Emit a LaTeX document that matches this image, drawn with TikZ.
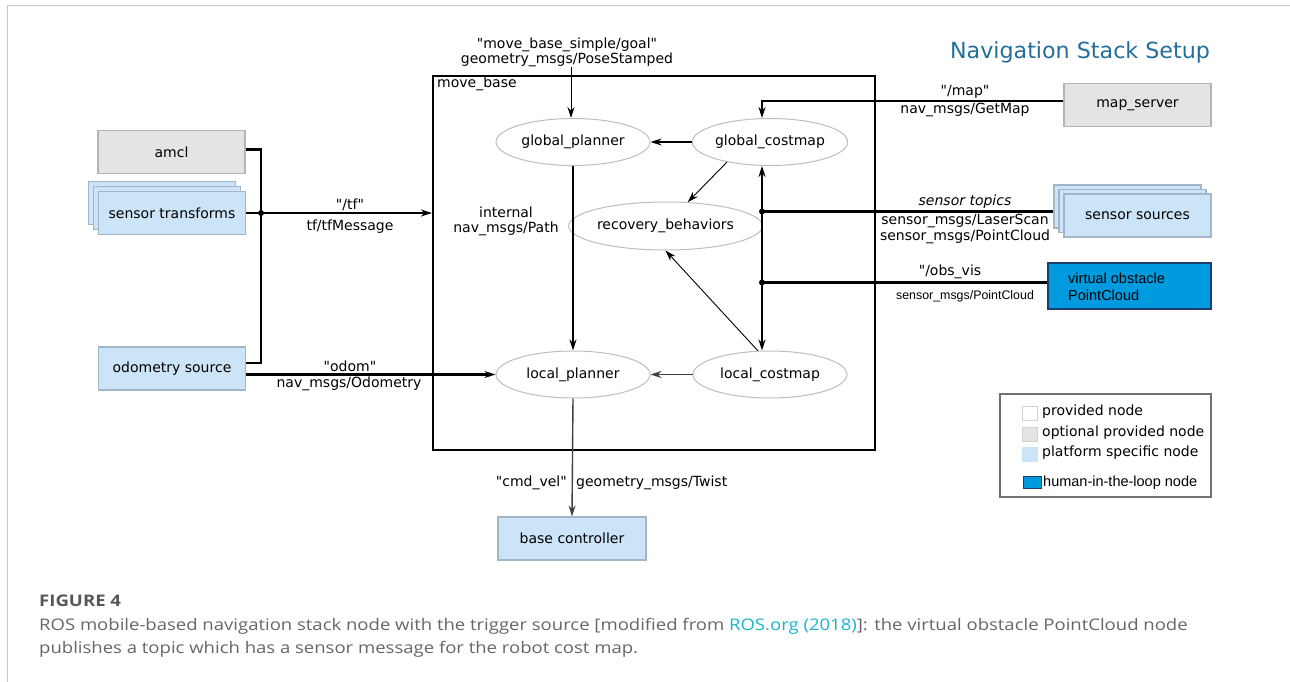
\documentclass[tikz,border=0pt]{standalone}
\usepackage{fontspec}
\setmainfont{DejaVu Sans}[Ligatures=TeXOff]
\newfontfamily\arialfont{Liberation Sans}[Ligatures=TeXOff]
\newfontfamily\capfont{Open Sans}
\usetikzlibrary{shapes.geometric,arrows.meta}
\definecolor{optfill}{HTML}{E4E4E4}
\definecolor{optedge}{HTML}{B4B4B4}
\definecolor{platfill}{HTML}{CCE4F7}
\definecolor{platedge}{HTML}{A3B6C8}
\definecolor{humfill}{HTML}{009BDF}
\definecolor{humedge}{HTML}{1C3F6E}
\definecolor{elledge}{HTML}{BDBDBD}
\definecolor{titleblue}{HTML}{236E9B}
\definecolor{framegray}{HTML}{C8C8C8}
\definecolor{capgray}{HTML}{666666}
\definecolor{linkcyan}{HTML}{1BB3CC}
\definecolor{legedge}{HTML}{707070}
\begin{document}
\begin{tikzpicture}[x=1pt,y=-1pt,
  font=\fontsize{14}{16}\selectfont,
  >={Stealth[length=11pt,width=7pt]},
  optbox/.style={rectangle,draw=optedge,line width=1.2pt,fill=optfill,minimum width=147pt,minimum height=43pt,inner sep=0pt},
  platbox/.style={rectangle,draw=platedge,line width=1.2pt,fill=platfill,minimum width=147pt,minimum height=43pt,inner sep=0pt},
  ell/.style={ellipse,draw=elledge,line width=1pt,fill=white,minimum width=154pt,minimum height=47pt,inner sep=0pt},
  lbl/.style={inner sep=0pt,anchor=center},
  heavy/.style={line width=2.4pt},
  medium/.style={line width=1.4pt},
  fine/.style={line width=0.9pt},
  junction/.style={circle,fill=black,inner sep=0pt,minimum size=6pt},
  swatch/.style={rectangle,minimum width=15pt,minimum height=14pt,inner sep=0pt},
  captext/.style={lbl,anchor=west,text=capgray,font=\capfont\fontsize{16}{18}\selectfont}
]
\useasboundingbox (0,0) rectangle (1290,682);
% page frame
\draw[framegray,line width=1.5pt] (7.5,682) -- (7.5,5.5) -- (1290,5.5);

% title
\node[lbl,text=titleblue,font=\fontsize{22.2}{26}\selectfont] (title) at (1080,52) {Navigation Stack Setup};

% move_base container
\node[draw,line width=2.2pt,minimum width=442pt,minimum height=374pt,inner sep=0pt] (mb) at (654,263) {};
\node[lbl,anchor=west] (mblabel) at (437,84) {move\_base};

% left nodes
\node[optbox] (amcl) at (171.5,152) {amcl};
\node[platbox] (stb1) at (162,203) {};
\node[platbox] (stb2) at (167,208) {};
\node[platbox] (st) at (172,213) {sensor transforms};
\node[platbox] (odom) at (172,368.5) {odometry source};

% right nodes
\node[optbox] (ms) at (1137.5,105) {map\_server};
\node[platbox] (ssb1) at (1127.5,206.5) {};
\node[platbox] (ssb2) at (1132.5,211) {};
\node[platbox] (ss) at (1137.5,215.5) {sensor sources};
\node[rectangle,draw=humedge,line width=1.2pt,fill=humfill,minimum width=163pt,minimum height=46pt,inner sep=0pt] (obs) at (1129.5,286) {};
\node[lbl,anchor=west,font=\arialfont\fontsize{14.5}{17}\selectfont,align=left] (obstext) at (1068,286.5) {virtual obstacle\\PointCloud};

% bottom node
\node[platbox,minimum width=148pt] (bc) at (572,538.5) {base controller};

% ellipses
\node[ell] (gp) at (573,142) {global\_planner};
\node[ell] (gc) at (770,142) {global\_costmap};
\node[ell,minimum width=155pt,minimum height=48pt] (rb) at (665.5,226) {recovery\_behaviors};
\node[ell] (lp) at (573,374.5) {local\_planner};
\node[ell] (lc) at (770,374.5) {local\_costmap};

% labels
\node[lbl,align=center,font=\fontsize{14}{15}\selectfont] (goal) at (567,52.5) {"move\_base\_simple/goal"\\geometry\_msgs/PoseStamped};
\node[lbl] (tfa) at (350,205) {"/tf"};
\node[lbl] (tfb) at (350,227) {tf/tfMessage};
\node[lbl] (oda) at (350,366) {"odom"};
\node[lbl] (odb) at (349,384) {nav\_msgs/Odometry};
\node[lbl] (ina) at (506,212) {internal};
\node[lbl] (inb) at (506,229) {nav\_msgs/Path};
\node[lbl] (mapa) at (965,92) {"/map"};
\node[lbl] (mapb) at (965,110) {nav\_msgs/GetMap};
\node[lbl,font=\itshape\fontsize{14}{16}\selectfont] (sta) at (965,202) {sensor topics};
\node[lbl] (stl1) at (965,221) {sensor\_msgs/LaserScan};
\node[lbl] (stl2) at (965,237) {sensor\_msgs/PointCloud};
\node[lbl] (obsa) at (950,272) {"/obs\_vis};
\node[lbl,font=\arialfont\fontsize{12.4}{14}\selectfont] (obsb) at (965,296) {sensor\_msgs/PointCloud};
\node[lbl,anchor=east] (cva) at (567,483) {"cmd\_vel"};
\node[lbl,anchor=west] (cvb) at (576,483) {geometry\_msgs/Twist};

% connectors: left bus
\coordinate (busT) at (261,149.5);
\coordinate (busB) at (261,363);
\coordinate (busJ) at (261,213);
\draw[heavy,line join=miter] (amcl.east |- busT) -- (busT) -- (busB) -- (odom.east |- busB);
\draw[heavy,->] (st.east) -- (st.east -| mb.west);
\node[junction] (jtf) at (busJ) {};
\draw[heavy,->] (lp.west -| odom.east) -- (lp.west);

% goal
\draw[fine,->] (goal.south -| 571,0) -- (571,118);
% inside move_base
\draw[medium,->] (gc.west) -- (gp.east);
\draw[fine,->] (gc.205) -- (rb.47);
\draw[heavy,->] (gp.south) -- (lp.north);
\draw[fine,->] (lc.117) -- (rb.south);
\draw[medium,->,black!75] (lc.west) -- (lp.east);
\draw[medium,->,black!75] (lp.south) -- (bc.north);

% costmap column
\coordinate (mapc) at (762,101);
\coordinate (sj) at (762,211.5);
\coordinate (oj) at (762,282.5);
\draw[heavy,->] (mapc -| ms.west) -- (mapc) -- (mapc |- gc.north);
\draw[heavy,<->] ([xshift=-8pt]gc.south) -- ([xshift=-8pt]lc.north);
\draw[heavy] (sj) -- (sj -| ssb1.west);
\draw[heavy] (oj) -- (oj -| obs.west);
\node[junction] (jst) at (sj) {};
\node[junction] (job) at (oj) {};

% legend
\node[rectangle,draw=legedge,line width=1.3pt,minimum width=211pt,minimum height=103pt,inner sep=0pt] (legend) at (1105.5,445.5) {};
\node[swatch,draw=optedge!60,fill=white] (sw1) at (1030,413.5) {};
\node[swatch,draw=optedge!60,fill=optfill] (sw2) at (1030,434) {};
\node[swatch,draw=platfill,fill=platfill] (sw3) at (1030,454.5) {};
\node[swatch,draw=humedge,line width=1pt,fill=humfill,minimum width=18pt,minimum height=12pt] (sw4) at (1032,482.5) {};
\node[lbl,anchor=west] (lg1) at (1042,412) {provided node};
\node[lbl,anchor=west] (lg2) at (1042,432.5) {optional provided node};
\node[lbl,anchor=west] (lg3) at (1042,453) {platform specific node};
\node[lbl,anchor=west,font=\arialfont\fontsize{14.5}{17}\selectfont] (lg4) at (1043,482.5) {human-in-the-loop node};

% caption
\node[lbl,anchor=west,text=capgray!85!black,font=\capfont\bfseries\fontsize{16}{18}\selectfont] (fig) at (39,601) {\scalebox{1.16}[1]{FIGURE 4}};
\node[captext] (cap1) at (39,626) {\scalebox{1.157}[1]{ROS mobile-based navigation stack node with the trigger source [modified from \textcolor{linkcyan}{ROS.org (2018)}]: the virtual obstacle PointCloud node}};
\node[captext] (cap2) at (39,649) {\scalebox{1.157}[1]{publishes a topic which has a sensor message for the robot cost map.}};
\end{tikzpicture}
\end{document}
